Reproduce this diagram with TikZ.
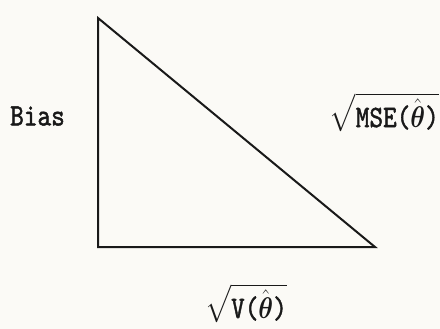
\documentclass[tikz,border=0pt]{standalone}
\usepackage{fontspec}
\usepackage{amsmath,amssymb}
\usepackage{graphicx}
\usepackage{tikz}
\usetikzlibrary{positioning}
\newfontfamily\twfont[FakeBold=1.6]{lmmono10-regular.otf}
\definecolor{cPaper}{RGB}{251,250,246}
\definecolor{cInk}{RGB}{25,25,25}
\newcommand{\tw}[1]{\text{\twfont #1}}
\newcommand{\tall}[1]{\scalebox{1}[1.2]{#1}}

\begin{document}
\begin{tikzpicture}[x=1pt, y=-1pt,
    lbl/.style={font=\fontsize{26}{26}\selectfont\twfont, text=cInk, inner sep=0pt},
    side/.style={draw=cInk, line width=2pt, line join=miter}]
  % paper
  \fill[cPaper] (0,0) rectangle (440,329);
  \useasboundingbox (0,0) rectangle (440,329);
  % triangle
  \coordinate (top) at (98,18);
  \coordinate (corner) at (98,247);
  \coordinate (right) at (375,247);
  \draw[side] (top) -- (corner) -- (right) -- cycle;
  % labels
  \node[lbl, anchor=west] (bias) at (10,116) {\tall{Bias}};
  \node[lbl, anchor=east] (mse) at (439,112) {\tall{$\sqrt{\tw{MSE(}\hat{\boldsymbol{\theta}}\tw{)}}$}};
  \node[lbl] (var) at (246,303) {\tall{$\sqrt{\tw{V(}\hat{\boldsymbol{\theta}}\tw{)}}$}};
\end{tikzpicture}
\end{document}
